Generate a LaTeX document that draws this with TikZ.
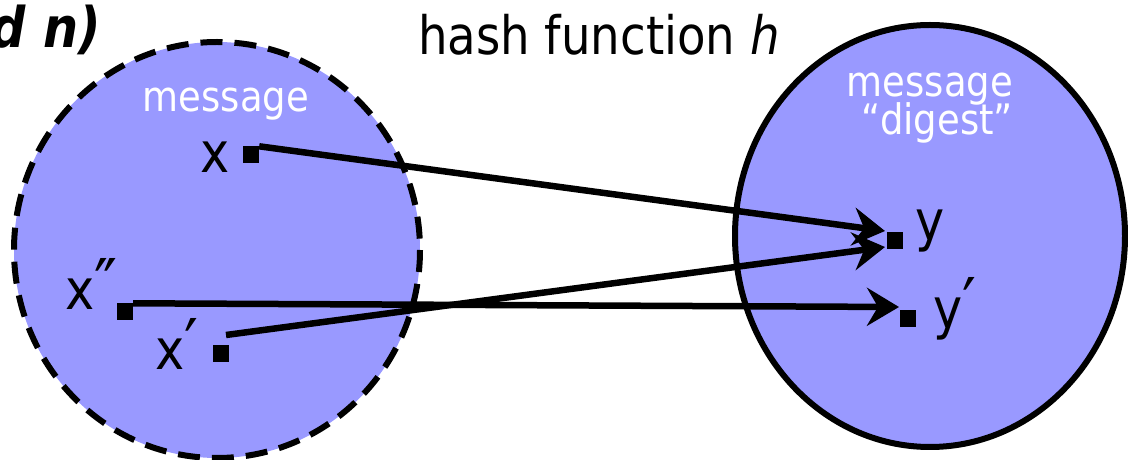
\documentclass[tikz,border=0pt]{standalone}
\usepackage{fontspec}
\setmainfont{DejaVu Sans}[FakeStretch=0.88]
\usetikzlibrary{arrows.meta}
\definecolor{setblue}{RGB}{153,153,255}
\newcommand{\pr}[1]{{\fontsize{70bp}{70bp}\selectfont #1}}
\begin{document}
\begin{tikzpicture}[x=1bp,y=-1bp,
  lab/.style={font=\fontsize{56bp}{60bp}\selectfont, inner sep=0pt, anchor=base west},
  wlab/.style={font=\fontsize{42bp}{48bp}\selectfont, text=white, inner sep=0pt, anchor=base},
  ptbox/.style={fill=black, minimum width=16bp, minimum height=17bp, inner sep=0pt},
  arr/.style={line width=6.5bp, -{Stealth[length=32bp,width=38bp,inset=11bp]}},
  setshape/.style={fill=setblue, line width=6bp}]
\useasboundingbox (0,0) rectangle (1128,460);
% sets
\draw[setshape, dash pattern=on 22bp off 12bp] (217,250) ellipse [x radius=203, y radius=208];
\draw[setshape] (930,236) ellipse [x radius=195, y radius=211];
% texts
\node[font=\fontsize{56bp}{60bp}\selectfont\bfseries\itshape, inner sep=0pt, anchor=base east] (modn) at (101,48) {od n)};
\node[font=\fontsize{53bp}{60bp}\selectfont, inner sep=0pt, anchor=base] (title) at (599,55) {hash function \textit{h}};
\node[wlab] (msg1) at (226,112) {message};
\node[wlab] (msg2) at (930,97) {message};
\node[wlab] (dig) at (937,135) {“digest”};
% points
\node[ptbox] (sx) at (251,155) {};
\node[ptbox] (sxpp) at (125,312) {};
\node[ptbox] (sxp) at (221,354) {};
\node[ptbox] (sy) at (895,241) {};
\node[ptbox] (syp) at (908,319) {};
% labels
\node[lab, anchor=base] (lx) at (215,173) {x};
\node[lab] (lxpp) at (65,310) {x\pr{″}};
\node[lab] (lxp) at (155,370) {x\pr{′}};
\node[lab] (ly) at (915,241) {y};
\node[lab] (lyp) at (933,329) {y\pr{′}};
% arrow ends
\coordinate (xps) at (226,335);
\coordinate (t1) at (885,231);
\coordinate (t2) at (885,247);
\coordinate (t3) at (899,307);
\draw[arr] (sx.north east) -- (t1);
\draw[arr] (xps) -- (t2);
\draw[arr] (sxpp.north east) -- (t3);
\end{tikzpicture}
\end{document}
